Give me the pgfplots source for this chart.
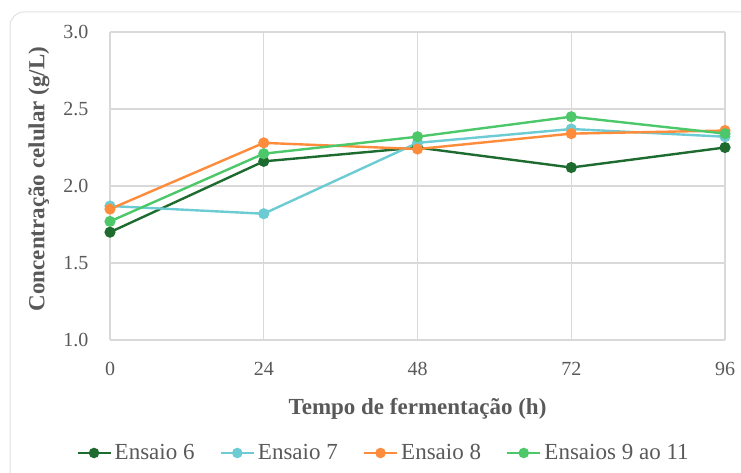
\documentclass[border=0pt]{standalone}
\usepackage{pgfplots}
\pgfplotsset{compat=1.18}
\usepackage{fontspec}
\setmainfont{Liberation Serif}
\definecolor{cE6}{HTML}{1E6B30}
\definecolor{cE7}{HTML}{6CCBD3}
\definecolor{cE8}{HTML}{FF8C3A}
\definecolor{cE9}{HTML}{4CC86A}
\definecolor{txt}{HTML}{595959}
\definecolor{grd}{HTML}{D9D9D9}
\begin{document}
\begin{tikzpicture}[x=1pt,y=1pt]
\useasboundingbox (0,0) rectangle (741,473);
\draw[grd!80,line width=1pt,rounded corners=14pt] (10,461) rectangle (770,-30);
\begin{axis}[
  at={(110pt,133pt)}, anchor=south west,
  scale only axis, width=615pt, height=308pt,
  xmin=0, xmax=96, ymin=1, ymax=3,
  xtick={0,24,48,72,96}, ytick={1,1.5,2,2.5,3},
  yticklabel style={/pgf/number format/fixed,/pgf/number format/fixed zerofill,/pgf/number format/precision=1},
  /pgf/number format/assume math mode=true,
  ticklabel style={font=\fontsize{20}{22}\selectfont, text=txt},
  xtick style={draw=none}, ytick style={draw=none},
  axis line style={draw=none},
  grid=major, major grid style={grd, line width=1.2pt},
  xlabel={\textbf{Tempo de fermentação (h)}},
  ylabel={\textbf{Concentração celular (g/L)}},
  label style={font=\fontsize{23}{25}\selectfont, text=txt},
  xlabel style={at={(axis description cs:0.5,0)}, anchor=center, yshift=-69pt},
  ylabel style={at={(axis description cs:0,0.5)}, anchor=center, yshift=71pt, xshift=7pt},
  x tick label style={yshift=-19pt},
  y tick label style={xshift=-18pt},
  legend columns=4,
  legend cell align=left,
  legend style={at={(axis description cs:0.5,0)}, anchor=center, yshift=-113pt, xshift=-35pt, draw=none, fill=none,
    font=\fontsize{23}{25}\selectfont, text=txt, inner sep=0pt,
    nodes={inner sep=0pt},
    /tikz/every even column/.append style={column sep=25pt},
    /tikz/every odd column/.append style={column sep=3pt}},
  legend image code/.code={\draw[#1] (0pt,0pt) -- (33pt,0pt); \fill[#1] (16.5pt,0pt) circle (4pt);},
  every axis plot/.append style={line width=2.4pt, mark=*, mark size=4.3pt},
  clip=false,
]
\addplot[color=cE6] coordinates {(0,1.70) (24,2.16) (48,2.25) (72,2.12) (96,2.25)};
\addlegendentry{Ensaio 6}
\addplot[color=cE7] coordinates {(0,1.87) (24,1.82) (48,2.28) (72,2.37) (96,2.32)};
\addlegendentry{Ensaio 7}
\addplot[color=cE8] coordinates {(0,1.85) (24,2.28) (48,2.24) (72,2.34) (96,2.36)};
\addlegendentry{Ensaio 8}
\addplot[color=cE9] coordinates {(0,1.77) (24,2.21) (48,2.32) (72,2.45) (96,2.34)};
\addlegendentry{Ensaios 9 ao 11}
\end{axis}
\end{tikzpicture}
\end{document}
